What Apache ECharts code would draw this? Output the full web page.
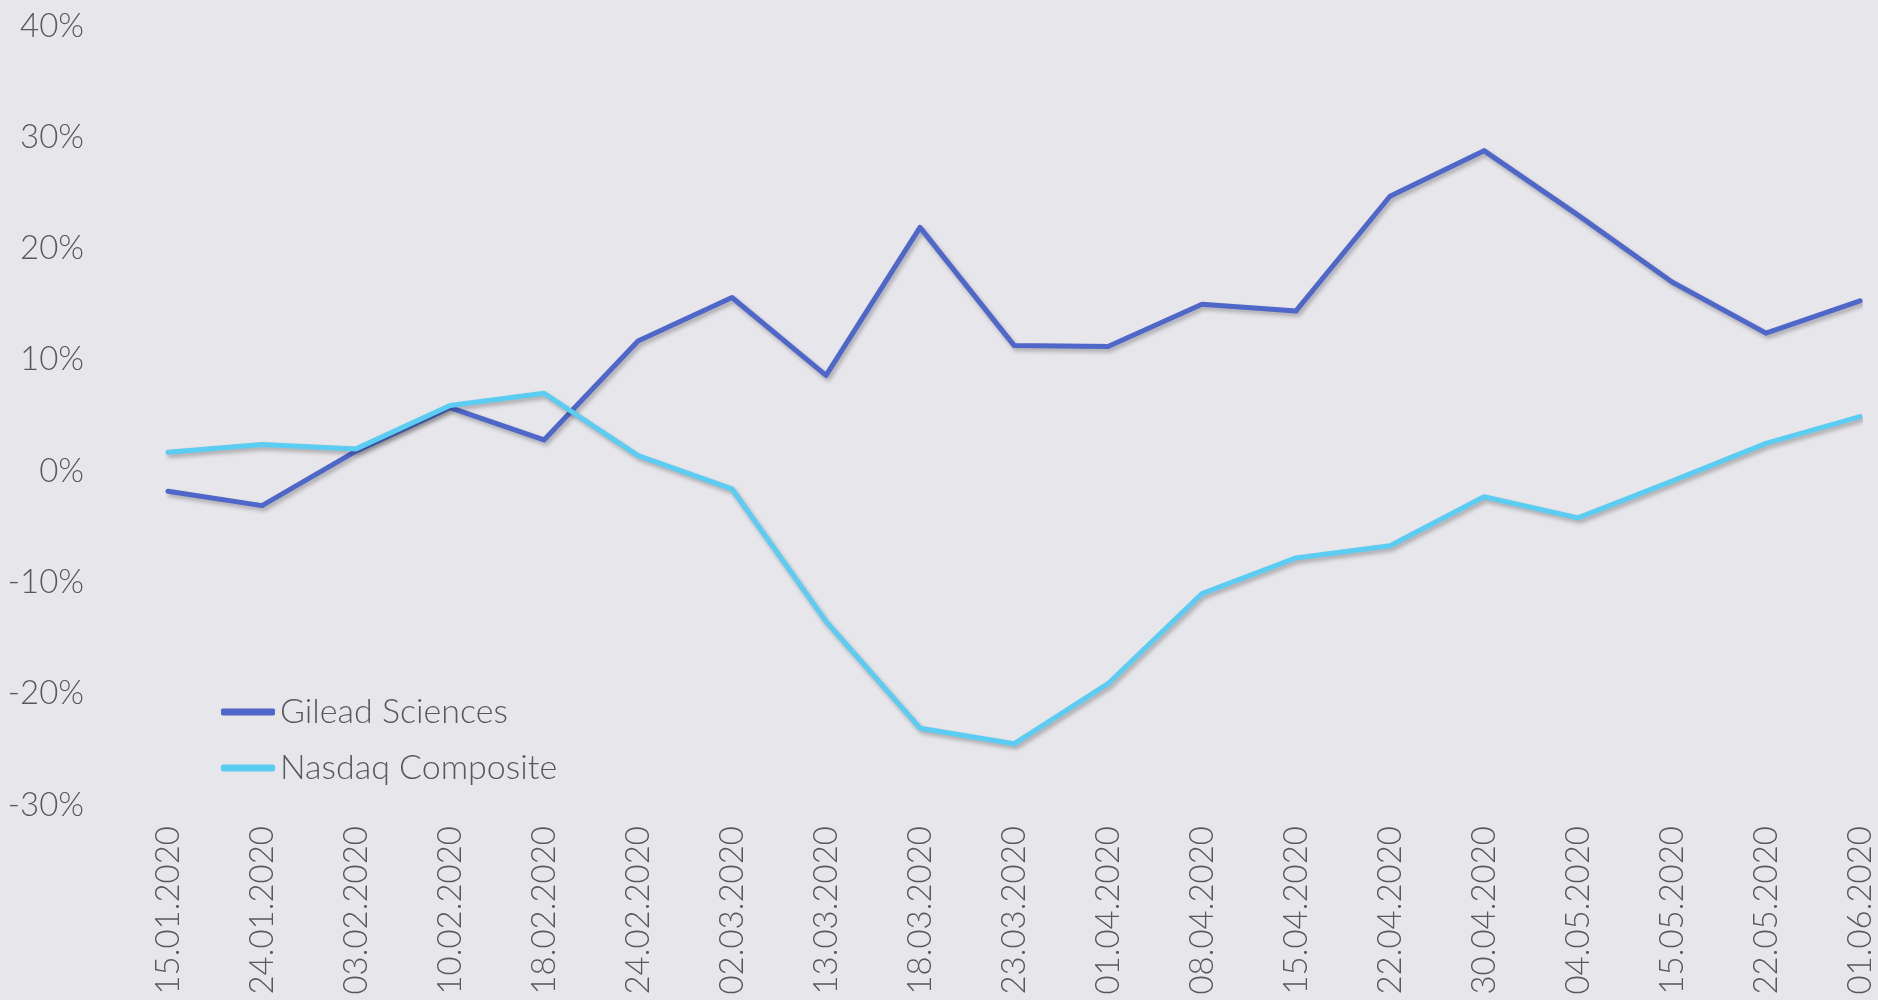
<!DOCTYPE html>
<html>
<head>
<meta charset="utf-8">
<script src="https://cdn.jsdelivr.net/npm/echarts@6/dist/echarts.min.js"></script>
<style>
  html, body { margin: 0; padding: 0; background: #e7e6eb; }
  #chart { width: 1878px; height: 1000px; }
</style>
</head>
<body>
<div id="chart"></div>
<script>
// categories (dates)
var dates = [
  "15.01.2020", "24.01.2020", "03.02.2020", "10.02.2020", "18.02.2020",
  "24.02.2020", "02.03.2020", "13.03.2020", "18.03.2020", "23.03.2020",
  "01.04.2020", "08.04.2020", "15.04.2020", "22.04.2020", "30.04.2020",
  "04.05.2020", "15.05.2020", "22.05.2020", "01.06.2020"
];
// performance in %
var gilead = [-1.8, -3.1, 1.8, 5.7, 2.8, 11.7, 15.6, 8.6, 21.9, 11.3,
  11.2, 15.0, 14.4, 24.7, 28.8, 23.0, 17.0, 12.4, 15.3];
var nasdaq = [1.7, 2.4, 2.0, 5.9, 7.0, 1.4, -1.6, -13.5, -23.1, -24.5,
  -19.1, -11.0, -7.8, -6.7, -2.3, -4.2, -0.9, 2.5, 4.9];
var seriesNames = ["Gilead Sciences", "Nasdaq Composite"];

var textColor = "#595959";
var fontFamily = "Lato, 'Open Sans', sans-serif";

var myChart = echarts.init(document.getElementById("chart"));

function lineSeries(name, data, color) {
  return {
    name: name,
    type: "line",
    data: data,
    symbol: "none",
    lineStyle: {
      color: color,
      width: 5,
      cap: "round",
      join: "round",
      shadowColor: "rgba(0,0,0,0.28)",
      shadowBlur: 4,
      shadowOffsetX: 2,
      shadowOffsetY: 3
    },
    itemStyle: { color: color }
  };
}

var option = {
  backgroundColor: "#e7e6eb",
  animation: false,
  textStyle: { fontFamily: fontFamily },
  grid: { left: 168, right: 18, top: 26, bottom: 195, containLabel: false },
  legend: {
    orient: "vertical",
    left: 216,
    top: 690,
    itemWidth: 54,
    itemHeight: 7,
    itemGap: 22,
    icon: "roundRect",
    data: seriesNames,
    textStyle: { color: textColor, fontSize: 34, fontFamily: fontFamily, fontWeight: 300 }
  },
  xAxis: {
    type: "category",
    data: dates,
    boundaryGap: false,
    axisLine: { show: false },
    axisTick: { show: false },
    splitLine: { show: false },
    axisLabel: {
      rotate: 90,
      margin: 21,
      interval: 0,
      color: textColor,
      fontSize: 33,
      fontFamily: fontFamily,
      fontWeight: 300
    }
  },
  yAxis: {
    type: "value",
    min: -30,
    max: 40,
    interval: 10,
    axisLine: { show: false },
    axisTick: { show: false },
    splitLine: { show: false },
    axisLabel: {
      formatter: "{value}%",
      margin: 84,
      color: textColor,
      fontSize: 33,
      fontFamily: fontFamily,
      fontWeight: 300
    }
  },
  series: [
    lineSeries(seriesNames[0], gilead, "#4e67c9"),
    lineSeries(seriesNames[1], nasdaq, "#5bcdf2")
  ]
};

myChart.setOption(option);
</script>
</body>
</html>
